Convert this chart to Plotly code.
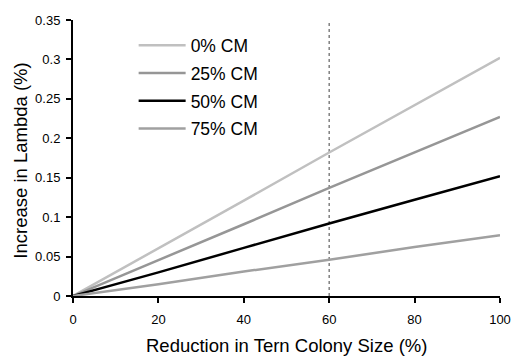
import plotly.graph_objects as go

reduction = [0, 20, 40, 60, 80, 100]
cm0 = [0.0, 0.060, 0.121, 0.182, 0.242, 0.302]
cm25 = [0.0, 0.045, 0.091, 0.137, 0.182, 0.227]
cm50 = [0.0, 0.030, 0.061, 0.092, 0.122, 0.152]
cm75 = [0.0, 0.015, 0.031, 0.046, 0.062, 0.077]
names = ["0% CM", "25% CM", "50% CM", "75% CM"]
colors = ["#c0c0c0", "#969696", "#000000", "#a0a0a0"]
series = [cm0, cm25, cm50, cm75]
ref_x = 60
x_ticks = [0, 20, 40, 60, 80, 100]
y_ticks = [0, 0.05, 0.1, 0.15, 0.2, 0.25, 0.3, 0.35]
y_ticktext = ["0", "0.05", "0.1", "0.15", "0.2", "0.25", "0.3", "0.35"]

FONT = "Liberation Sans, Arial, sans-serif"

fig = go.Figure()
for i, (n, c, s) in enumerate(zip(names, colors, series)):
    fig.add_trace(go.Scatter(x=reduction, y=s, mode="lines", name=n,
                             legendgroup=str(i),
                             line=dict(color=c, width=2.5)))

fig.add_shape(type="line", x0=ref_x, x1=ref_x, y0=0, y1=0.35, xref="x", yref="y",
              line=dict(color="#808080", width=1.5, dash="dot"), layer="below")

fig.add_annotation(text="Reduction in Tern Colony Size (%)", xref="paper", yref="paper",
                   x=0.5, y=-0.18, xanchor="center", yanchor="middle", showarrow=False,
                   font=dict(size=18.5, family=FONT, color="black"))
fig.add_annotation(text="Increase in Lambda (%)", xref="paper", yref="paper",
                   x=-0.122, y=0.49, xanchor="center", yanchor="middle", showarrow=False,
                   textangle=-90, font=dict(size=18.5, family=FONT, color="black"))

fig.update_layout(
    width=512, height=356,
    margin=dict(l=73, r=12, t=20, b=60, autoexpand=False),
    paper_bgcolor="white", plot_bgcolor="white",
    font=dict(family=FONT, color="black"),
    showlegend=True,
    legend=dict(x=0.142, y=0.973, xanchor="left", yanchor="top",
                font=dict(size=17.5), bgcolor="rgba(0,0,0,0)",
                itemwidth=47,
                traceorder="grouped", tracegroupgap=2),
    xaxis=dict(range=[0, 100], tickvals=x_ticks,
               showline=True, linecolor="black", linewidth=2,
               ticks="outside", ticklen=5, tickwidth=1.5, tickcolor="black",
               showgrid=False, zeroline=False, tickfont=dict(size=13),
               ticklabelstandoff=5, automargin=False),
    yaxis=dict(range=[0, 0.35], tickvals=y_ticks, ticktext=y_ticktext,
               showline=True, linecolor="black", linewidth=2,
               ticks="outside", ticklen=5, tickwidth=1.5, tickcolor="black",
               showgrid=False, zeroline=False, tickfont=dict(size=13),
               ticklabelstandoff=3, automargin=False),
)

fig.write_html("out.html", config={"displayModeBar": False},
               post_script="document.body.style.margin='0';document.body.style.overflow='hidden';")
